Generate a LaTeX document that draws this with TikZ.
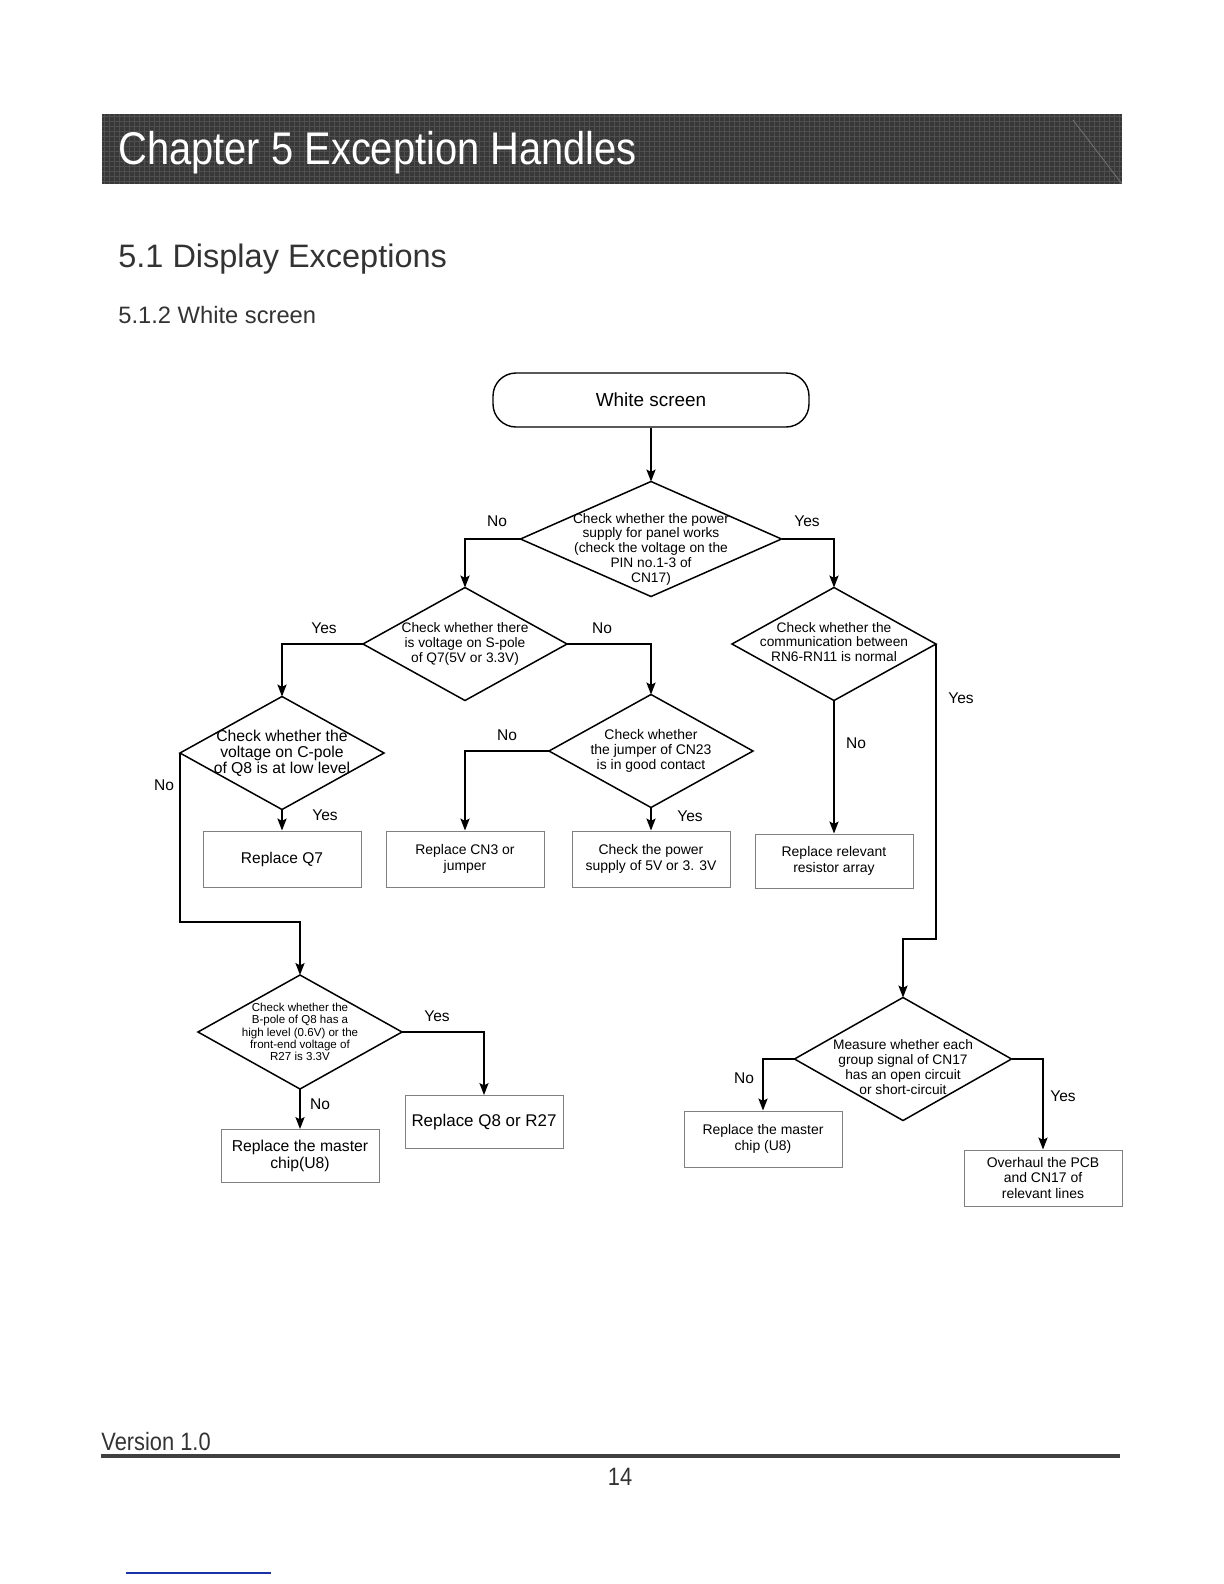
\documentclass[tikz,border=0pt]{standalone}
\usepackage{fontspec}
\setmainfont{Liberation Sans}
\newfontfamily\headfont[FakeStretch=0.87]{Liberation Sans}
\usetikzlibrary{shapes.geometric, arrows.meta}
\definecolor{barfill}{rgb}{0.22,0.22,0.22}
\definecolor{bargrid}{rgb}{0.31,0.31,0.31}
\definecolor{boxline}{rgb}{0.5,0.5,0.5}
\definecolor{headtext}{rgb}{0.2,0.2,0.2}
\definecolor{linkblue}{rgb}{0.1,0.2,0.65}

\begin{document}
\begin{tikzpicture}[
  x=0.5bp, y=-0.5bp,
  start/.style={draw, line width=0.7bp, rounded corners=11.5bp, minimum width=158bp, minimum height=27bp, font=\fontsize{9.5}{11}\selectfont},
  decision/.style={diamond, draw, line width=0.75bp, minimum width=102bp, minimum height=56.5bp, inner sep=0pt, outer sep=0pt},
  dtext/.style={align=center, inner sep=0pt, font=\fontsize{6.9}{7.4}\selectfont},
  action/.style={draw=boxline, line width=0.5bp, minimum width=79bp, minimum height=28bp, align=center, inner sep=1bp, font=\fontsize{7}{7.8}\selectfont},
  answer/.style={font=\fontsize{7.8}{9}\selectfont, inner sep=0pt},
  arrow/.style={-{Stealth[length=6bp, width=4.6bp, inset=1.2bp]}, line width=0.75bp},
]
\useasboundingbox (0,0) rectangle (1224,1584);

% Header bar
\fill[barfill] (102,114) rectangle (1122,184);
\begin{scope}
  \clip (102,114) rectangle (1122,184);
  \foreach \gx in {104,109,...,1120} \draw[bargrid, line width=0.3bp] (\gx,114) -- (\gx,184);
  \foreach \gy in {116,121,...,184} \draw[bargrid, line width=0.3bp] (102,\gy) -- (1122,\gy);
  \draw[bargrid!80!white, line width=0.4bp] (1073,120) -- (1122,184);
\end{scope}
\node[anchor=base west, inner sep=0pt, text=white, font=\headfont\fontsize{23}{26}\selectfont] (chapter) at (118,164) {Chapter 5 Exception Handles};
\node[anchor=base west, inner sep=0pt, text=headtext, font=\fontsize{16.3}{19}\selectfont] (section) at (118,267) {5.1 Display Exceptions};
\node[anchor=base west, inner sep=0pt, text=headtext, font=\fontsize{11.9}{14}\selectfont] (subsection) at (118,323) {5.1.2 White screen};

% Nodes
\node[start] (white) at (651,400) {White screen};
\node[decision, minimum width=130.5bp, minimum height=57.5bp,
  label={[dtext, yshift=-5bp]center:{Check whether the power\\supply for panel works\\(check the voltage on the\\PIN no.1-3 of\\CN17)}}] (power) at (651,539) {};
\node[decision, label={[dtext]center:{Check whether there\\is voltage on S-pole\\of Q7(5V or 3.3V)}}] (spole) at (465,644) {};
\node[decision, label={[dtext, yshift=1bp]center:{Check whether the\\communication between\\RN6-RN11 is normal}}] (comm) at (834,644) {};
\node[decision, label={[dtext, font=\fontsize{7.9}{8}\selectfont]center:{Check whether the\\voltage on C-pole\\of Q8 is at low level}}] (cpole) at (282,753) {};
\node[decision, label={[dtext, font=\fontsize{7}{7.6}\selectfont]center:{Check whether\\the jumper of CN23\\is in good contact}}] (jumper) at (651,751) {};
\node[decision, minimum height=57bp, label={[dtext, font=\fontsize{5.8}{6.1}\selectfont]center:{Check whether the\\B-pole of Q8 has a\\high level (0.6V) or the\\front-end voltage of\\R27 is 3.3V}}] (bpole) at (300,1032) {};
\node[decision, minimum width=108.5bp, minimum height=61.5bp,
  label={[dtext, yshift=-4bp]center:{Measure whether each\\group signal of CN17\\has an open circuit\\or short-circuit}}] (signal) at (903,1059) {};

\node[action, font=\fontsize{7.8}{9}\selectfont] (q7) at (282,859) {Replace Q7};
\node[action] (cn3) at (465,859) {Replace CN3 or\\jumper};
\node[action] (supply) at (651,859) {Check the power\\supply of 5V or 3. 3V};
\node[action, minimum height=27bp] (resistor) at (834,861) {Replace relevant\\resistor array};
\node[action, minimum height=26.5bp, font=\fontsize{8.5}{10}\selectfont] (q8) at (484,1122) {Replace Q8 or R27};
\node[action, minimum height=26.5bp, font=\fontsize{7.9}{8.6}\selectfont] (chip) at (300,1156) {Replace the master\\chip(U8)};
\node[action] (chipb) at (763,1139) {Replace the master\\chip (U8)};
\node[action] (pcb) at (1043,1178) {Overhaul the PCB\\and CN17 of\\relevant lines};

% Answers
\node[answer] (powerno) at (497,521) {No};
\node[answer] (poweryes) at (807,521) {Yes};
\node[answer] (spoleyes) at (324,628) {Yes};
\node[answer] (spoleno) at (602,628) {No};
\node[answer] (commyes) at (961,698) {Yes};
\node[answer] (commno) at (856,743) {No};
\node[answer] (cpoleyes) at (325,815) {Yes};
\node[answer] (cpoleno) at (164,785) {No};
\node[answer] (jumperno) at (507,735) {No};
\node[answer] (jumperyes) at (690,816) {Yes};
\node[answer] (bpoleyes) at (437,1016) {Yes};
\node[answer] (bpoleno) at (320,1104) {No};
\node[answer] (signalno) at (744,1078) {No};
\node[answer] (signalyes) at (1063,1096) {Yes};

% Bends
\coordinate (nobend) at (0,922);
\coordinate (yesbend) at (0,939);

% Arrows
\draw[arrow] (white) -- (power);
\draw[arrow] (power.west) -| (spole.north);
\draw[arrow] (power.east) -| (comm.north);
\draw[arrow] (spole.west) -| (cpole.north);
\draw[arrow] (spole.east) -| (jumper.north);
\draw[arrow] (comm.south) -- (resistor.north);
\draw[arrow] (comm.east) -- (comm.east |- yesbend) -| (signal.north);
\draw[arrow] (cpole.south) -- (q7.north);
\draw[arrow] (cpole.west) -- (cpole.west |- nobend) -| (bpole.north);
\draw[arrow] (jumper.west) -| (cn3.north);
\draw[arrow] (jumper.south) -- (supply.north);
\draw[arrow] (bpole.east) -| (q8.north);
\draw[arrow] (bpole.south) -- (chip.north);
\draw[arrow] (signal.west) -| (chipb.north);
\draw[arrow] (signal.east) -| (pcb.north);

% Footer
\node[anchor=base west, inner sep=0pt, text=headtext, font=\headfont\fontsize{12.6}{14}\selectfont] (version) at (101,1450) {Version 1.0};
\draw[black!75, line width=2bp] (101,1456) -- (1120,1456);
\node[anchor=base, inner sep=0pt, text=headtext, font=\headfont\fontsize{12.6}{14}\selectfont] (pageno) at (620,1485) {14};
\draw[linkblue, line width=0.6bp] (126,1573) -- (271,1573);
\end{tikzpicture}
\end{document}
